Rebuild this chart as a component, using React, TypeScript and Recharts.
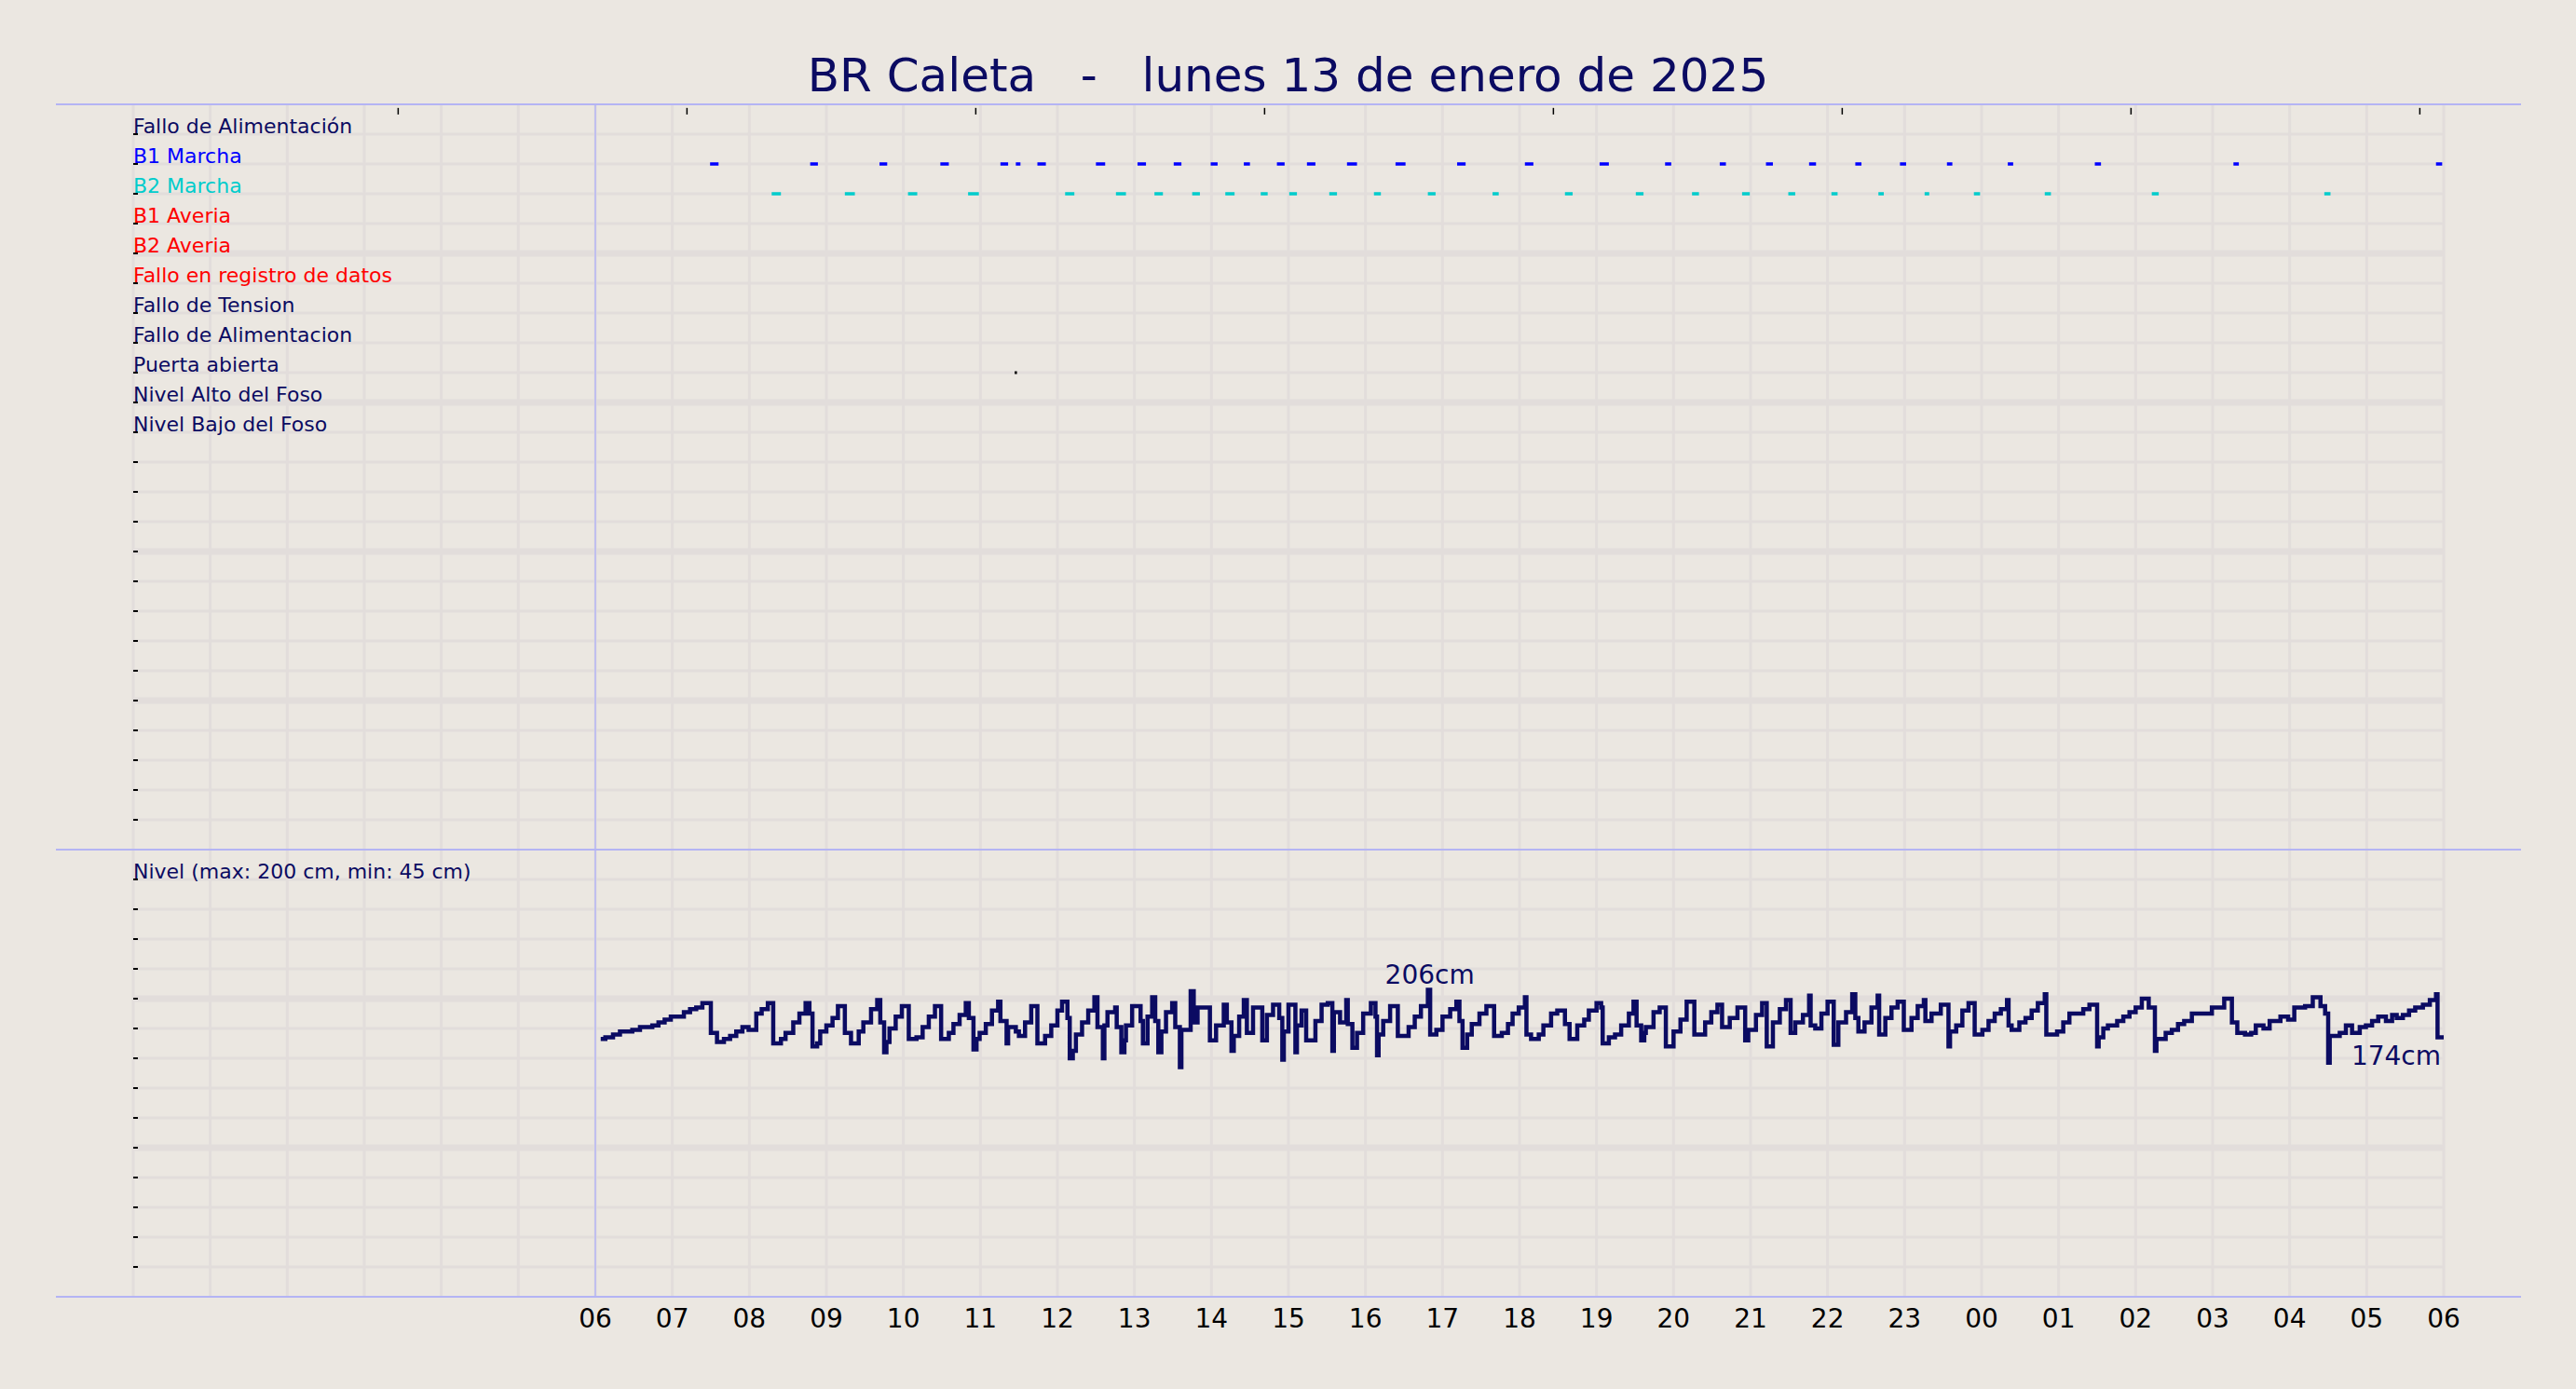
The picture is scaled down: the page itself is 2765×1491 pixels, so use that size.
import { ComposedChart, Line, XAxis, YAxis, CartesianGrid, LabelList, ReferenceLine } from "recharts";

const NAVY = "#0b0b62";
const GRID = "#e2dddb";
const FRAME = "#b4b4f4";
const BG = "#ebe7e1";
const FONT = "'DejaVu Sans', sans-serif";

const WIDTH = 2765;
const PLOT_LEFT = 143;
const PLOT_RIGHT = 2623;

const title = "BR Caleta   -   lunes 13 de enero de 2025";

// x axis: hours from 00 to 06 of next day
const hourTicks = [6, 7, 8, 9, 10, 11, 12, 13, 14, 15, 16, 17, 18, 19, 20, 21, 22, 23, 24, 25, 26, 27, 28, 29, 30];
const gridHours = [0, 1, 2, 3, 4, 5, 6, 7, 8, 9, 10, 11, 12, 13, 14, 15, 16, 17, 18, 19, 20, 21, 22, 23, 24, 25, 26, 27, 28, 29, 30];
const topTicks = [3.44, 7.19, 10.94, 14.69, 18.44, 22.19, 25.94, 29.69];
const topTickSpan = [0.12, 0.34];

// event rows
const rowLabels = [
  "Fallo de Alimentación",
  "B1 Marcha",
  "B2 Marcha",
  "B1 Averia",
  "B2 Averia",
  "Fallo en registro de datos",
  "Fallo de Tension",
  "Fallo de Alimentacion",
  "Puerta abierta",
  "Nivel Alto del Foso",
  "Nivel Bajo del Foso",
];
const rowColors = [NAVY, "#0000ff", "#00cccc", "#ff0000", "#ff0000", "#ff0000", NAVY, NAVY, NAVY, NAVY, NAVY];
const rowTicks = [1, 2, 3, 4, 5, 6, 7, 8, 9, 10, 11, 12, 13, 14, 15, 16, 17, 18, 19, 20, 21, 22, 23, 24];
const majorRows = [5, 10, 15, 20];

const b1Runs = [
  [7.49, 7.6], [8.79, 8.89], [9.69, 9.79], [10.48, 10.59], [11.26, 11.36], [11.46, 11.52],
  [11.74, 11.85], [12.5, 12.62], [13.04, 13.15], [13.51, 13.61], [13.99, 14.08], [14.42, 14.5],
  [14.85, 14.95], [15.24, 15.35], [15.76, 15.89], [16.39, 16.52], [17.19, 17.3], [18.07, 18.18],
  [19.04, 19.16], [19.89, 19.97], [20.6, 20.68], [21.2, 21.29], [21.76, 21.85], [22.36, 22.44],
  [22.94, 23.02], [23.55, 23.62], [24.34, 24.41], [25.47, 25.55], [27.27, 27.34], [29.9, 29.98],
];
const b2Runs = [
  [8.29, 8.41], [9.24, 9.37], [10.06, 10.18], [10.84, 10.98], [12.1, 12.22], [12.76, 12.89],
  [13.26, 13.37], [13.75, 13.85], [14.18, 14.3], [14.64, 14.73], [15.01, 15.11], [15.53, 15.63],
  [16.11, 16.2], [16.81, 16.91], [17.65, 17.73], [18.59, 18.69], [19.51, 19.61], [20.24, 20.33],
  [20.89, 20.99], [21.49, 21.58], [22.05, 22.13], [22.66, 22.73], [23.26, 23.32], [23.9, 23.98],
  [24.82, 24.9], [26.21, 26.3], [28.45, 28.53],
];
const doorRuns = [[11.445, 11.475]];

// level (cm), step samples
const levelHours = [
  6.07, 6.13, 6.23, 6.32, 6.48, 6.58, 6.74, 6.82, 6.9, 6.98, 7.15, 7.23, 7.31, 7.39, 7.5, 7.58, 7.67, 7.75, 7.83, 7.91,
  7.99, 8.09, 8.16, 8.24, 8.31, 8.41, 8.47, 8.57, 8.65, 8.73, 8.78, 8.82, 8.88, 8.92, 9.0, 9.08, 9.15, 9.24, 9.32, 9.42,
  9.48, 9.58, 9.66, 9.7, 9.75, 9.78, 9.82, 9.9, 9.98, 10.07, 10.17, 10.25, 10.33, 10.41, 10.49, 10.59, 10.65, 10.73, 10.81, 10.85,
  10.91, 10.95, 10.99, 11.07, 11.15, 11.23, 11.26, 11.34, 11.36, 11.46, 11.5, 11.58, 11.66, 11.74, 11.84, 11.92, 12.0, 12.06, 12.13, 12.16,
  12.2, 12.24, 12.32, 12.4, 12.48, 12.52, 12.59, 12.61, 12.65, 12.75, 12.77, 12.83, 12.87, 12.89, 12.97, 13.08, 13.11, 13.17, 13.23, 13.27,
  13.31, 13.35, 13.41, 13.49, 13.53, 13.59, 13.61, 13.73, 13.77, 13.82, 13.98, 14.06, 14.16, 14.2, 14.26, 14.29, 14.36, 14.42, 14.46, 14.54,
  14.66, 14.72, 14.8, 14.88, 14.92, 14.94, 15.0, 15.09, 15.11, 15.17, 15.23, 15.35, 15.43, 15.51, 15.57, 15.59, 15.67, 15.75, 15.77, 15.83,
  15.89, 15.97, 16.07, 16.13, 16.15, 16.17, 16.23, 16.32, 16.42, 16.56, 16.64, 16.72, 16.81, 16.84, 16.92, 17.0, 17.1, 17.18, 17.22, 17.26,
  17.32, 17.38, 17.48, 17.57, 17.67, 17.77, 17.85, 17.91, 17.99, 18.07, 18.09, 18.15, 18.25, 18.31, 18.41, 18.49, 18.59, 18.65, 18.75, 18.84,
  18.9, 19.0, 19.06, 19.08, 19.16, 19.24, 19.32, 19.42, 19.48, 19.52, 19.58, 19.62, 19.64, 19.74, 19.82, 19.9, 20.0, 20.09, 20.17, 20.27,
  20.41, 20.49, 20.57, 20.63, 20.73, 20.83, 20.93, 20.97, 21.07, 21.15, 21.21, 21.29, 21.38, 21.46, 21.52, 21.58, 21.68, 21.76, 21.78, 21.84,
  21.92, 22.0, 22.08, 22.14, 22.24, 22.32, 22.36, 22.4, 22.48, 22.57, 22.65, 22.67, 22.75, 22.83, 22.91, 22.99, 23.09, 23.17, 23.25, 23.27,
  23.35, 23.47, 23.57, 23.59, 23.67, 23.75, 23.83, 23.91, 24.01, 24.09, 24.17, 24.25, 24.33, 24.35, 24.39, 24.49, 24.57, 24.65, 24.73, 24.82,
  24.84, 24.98, 25.06, 25.14, 25.32, 25.4, 25.5, 25.52, 25.58, 25.64, 25.76, 25.84, 25.92, 26.0, 26.08, 26.17, 26.25, 26.27, 26.39, 26.47,
  26.55, 26.63, 26.73, 26.83, 26.99, 27.15, 27.25, 27.32, 27.42, 27.5, 27.56, 27.66, 27.74, 27.88, 27.98, 28.06, 28.2, 28.3, 28.4, 28.46,
  28.5, 28.52, 28.65, 28.73, 28.81, 28.91, 28.99, 29.07, 29.15, 29.25, 29.33, 29.39, 29.47, 29.55, 29.63, 29.73, 29.82, 29.9, 29.92, 30.0,
];
const levelCm = [
  173, 174, 176, 178, 179, 181, 182, 184, 186, 188, 191, 193, 194, 197, 177, 171, 173, 175, 178, 181,
  179, 190, 193, 197, 170, 173, 177, 184, 190, 197, 190, 168, 170, 178, 182, 187, 195, 177, 170, 178,
  184, 193, 199, 184, 164, 171, 180, 188, 195, 173, 174, 181, 188, 195, 173, 177, 183, 189, 197, 187,
  166, 173, 177, 183, 192, 198, 185, 170, 181, 178, 175, 184, 195, 170, 175, 182, 192, 198, 187, 160,
  165, 176, 184, 192, 201, 181, 160, 182, 191, 194, 181, 164, 172, 182, 195, 185, 170, 188, 201, 185,
  164, 178, 191, 197, 181, 154, 179, 205, 184, 194, 172, 182, 196, 184, 165, 175, 188, 199, 177, 194,
  172, 189, 196, 187, 159, 178, 196, 164, 182, 192, 172, 185, 196, 197, 165, 191, 184, 199, 183, 167,
  177, 190, 197, 188, 162, 176, 185, 195, 175, 181, 188, 195, 206, 176, 179, 188, 193, 198, 185, 167,
  176, 183, 190, 195, 175, 177, 183, 190, 194, 201, 176, 173, 176, 182, 190, 192, 183, 173, 182, 186,
  192, 197, 194, 170, 174, 176, 182, 190, 198, 182, 172, 177, 181, 191, 194, 168, 178, 186, 198, 176,
  184, 191, 196, 181, 187, 194, 172, 179, 189, 197, 168, 184, 193, 199, 177, 184, 189, 202, 182, 180,
  190, 198, 169, 184, 191, 203, 187, 178, 184, 194, 202, 176, 187, 194, 198, 179, 187, 195, 199, 185,
  190, 196, 168, 178, 182, 192, 197, 176, 179, 185, 190, 193, 199, 182, 179, 184, 187, 192, 197, 203,
  176, 178, 184, 190, 193, 196, 168, 174, 180, 182, 185, 188, 191, 194, 200, 194, 165, 173, 177, 179,
  183, 185, 190, 190, 194, 200, 184, 177, 176, 177, 182, 180, 185, 188, 186, 194, 195, 201, 195, 190,
  157, 175, 177, 182, 177, 181, 182, 185, 188, 185, 189, 187, 189, 192, 194, 196, 199, 203, 174, 174,
];
const levelTicks = [20, 40, 60, 80, 100, 120, 140, 160, 180, 200, 220, 240, 260, 280, 300];
const levelGrid = [20, 40, 60, 80, 100, 120, 140, 160, 180, 200, 220, 240, 260, 280];
const levelMajor = [100, 200];
const levelTitle = "Nivel (max: 200 cm, min: 45 cm)";
const levelTitleTick = 280;

const runsToPoints = (runs: number[][], row: number) =>
  runs.flatMap(([s, e]) => [
    { h: s, v: row },
    { h: e, v: row },
    { h: e, v: null },
  ]);

const levelData = levelHours.map((h, i) => ({ h, v: levelCm[i] }));
const maxIdx = levelCm.indexOf(Math.max(...levelCm));
const lastIdx = levelCm.length - 1;

const fmtHour = (h: number) => String(h % 24).padStart(2, "0");

function RowTick(props: any) {
  const { y, payload } = props;
  const i = payload.value - 1;
  const label = rowLabels[i];
  return (
    <g>
      <line x1={PLOT_LEFT} x2={PLOT_LEFT + 5} y1={y} y2={y} stroke="#000" strokeWidth={2} />
      {label && (
        <text x={PLOT_LEFT} y={y - 1} fill={rowColors[i]} fontSize={22} fontFamily={FONT}>
          {label}
        </text>
      )}
    </g>
  );
}

function LevelTick(props: any) {
  const { y, payload } = props;
  return (
    <g>
      <line x1={PLOT_LEFT} x2={PLOT_LEFT + 5} y1={y} y2={y} stroke="#000" strokeWidth={2} />
      {payload.value === levelTitleTick && (
        <text x={PLOT_LEFT} y={y - 1} fill={NAVY} fontSize={22} fontFamily={FONT}>
          {levelTitle}
        </text>
      )}
    </g>
  );
}

function RightTick(props: any) {
  const { y } = props;
  return <line x1={PLOT_RIGHT - 5} x2={PLOT_RIGHT} y1={y} y2={y} stroke="#000" strokeWidth={2} />;
}

function LevelLabel(props: any) {
  const { x, y, index } = props;
  if (index === maxIdx) {
    return (
      <text x={x + 2} y={y - 6} textAnchor="middle" fill={NAVY} fontSize={28} fontFamily={FONT}>
        {levelCm[maxIdx]}cm
      </text>
    );
  }
  if (index === lastIdx) {
    return (
      <text x={x - 3} y={y + 29} textAnchor="end" fill={NAVY} fontSize={28} fontFamily={FONT}>
        {levelCm[lastIdx]}cm
      </text>
    );
  }
  return null;
}

const frameLine = (top: number) => ({
  position: "absolute" as const,
  left: 60,
  top,
  width: 2646,
  height: 2,
  background: FRAME,
});

export default function App() {
  return (
    <div style={{ position: "relative", width: WIDTH, height: 1491, background: BG, overflow: "hidden" }}>
      <style>{`body{margin:0;background:${BG}}`}</style>
      <div
        style={{
          position: "absolute",
          left: 0,
          top: 56,
          width: WIDTH,
          textAlign: "center",
          fontFamily: FONT,
          fontSize: 50,
          lineHeight: "50px",
          whiteSpace: "pre",
          color: NAVY,
        }}
      >
        {title}
      </div>

      <div style={{ position: "absolute", left: 0, top: 112 }}>
        <ComposedChart width={WIDTH} height={800} margin={{ top: 0, right: 0, bottom: 0, left: 0 }}>
          <CartesianGrid stroke={GRID} strokeWidth={3} horizontalValues={rowTicks} verticalValues={gridHours} />
          <CartesianGrid stroke={GRID} strokeWidth={7} vertical={false} horizontalValues={majorRows} />
          <CartesianGrid stroke={FRAME} strokeWidth={1.5} horizontal={false} verticalValues={[6]} />
          <XAxis type="number" dataKey="h" domain={[0, 30]} hide allowDataOverflow />
          <YAxis
            type="number"
            domain={[0, 25]}
            reversed
            ticks={rowTicks}
            interval={0}
            width={PLOT_LEFT}
            axisLine={false}
            tickLine={false}
            tick={RowTick}
          />
          <YAxis
            yAxisId="right"
            orientation="right"
            type="number"
            domain={[0, 25]}
            reversed
            ticks={rowTicks}
            interval={0}
            width={WIDTH - PLOT_RIGHT}
            axisLine={false}
            tickLine={false}
            tick={RightTick}
          />
          {topTicks.map((t) => (
            <ReferenceLine
              key={t}
              segment={[
                { x: t, y: topTickSpan[0] },
                { x: t, y: topTickSpan[1] },
              ]}
              stroke="#000"
              strokeWidth={1.5}
            />
          ))}
          <Line data={runsToPoints(b1Runs, 2)} dataKey="v" stroke={rowColors[1]} strokeWidth={3.5} dot={false} isAnimationActive={false} />
          <Line data={runsToPoints(b2Runs, 3)} dataKey="v" stroke={rowColors[2]} strokeWidth={3.5} dot={false} isAnimationActive={false} />
          <Line data={runsToPoints(doorRuns, 9)} dataKey="v" stroke="#000" strokeWidth={3} dot={false} isAnimationActive={false} />
        </ComposedChart>
      </div>

      <div style={{ position: "absolute", left: 0, top: 912 }}>
        <ComposedChart width={WIDTH} height={540} margin={{ top: 0, right: 0, bottom: 0, left: 0 }}>
          <CartesianGrid stroke={GRID} strokeWidth={3} horizontalValues={levelGrid} verticalValues={gridHours} />
          <CartesianGrid stroke={GRID} strokeWidth={7} vertical={false} horizontalValues={levelMajor} />
          <CartesianGrid stroke={FRAME} strokeWidth={1.5} horizontal={false} verticalValues={[6]} />
          <XAxis
            type="number"
            dataKey="h"
            domain={[0, 30]}
            ticks={hourTicks}
            interval={0}
            tickFormatter={fmtHour}
            height={60}
            axisLine={false}
            tickLine={false}
            tickSize={6}
            tickMargin={7}
            tick={{ fontSize: 28, fill: "#000", fontFamily: FONT }}
          />
          <YAxis
            type="number"
            domain={[0, 300]}
            ticks={levelTicks}
            interval={0}
            width={PLOT_LEFT}
            axisLine={false}
            tickLine={false}
            tick={LevelTick}
          />
          <YAxis
            yAxisId="right"
            orientation="right"
            type="number"
            domain={[0, 300]}
            ticks={levelTicks}
            interval={0}
            width={WIDTH - PLOT_RIGHT}
            axisLine={false}
            tickLine={false}
            tick={RightTick}
          />
          <Line
            data={levelData}
            dataKey="v"
            type="stepAfter"
            stroke={NAVY}
            strokeWidth={4.5}
            dot={false}
            isAnimationActive={false}
          >
            <LabelList dataKey="v" content={LevelLabel} />
          </Line>
        </ComposedChart>
      </div>

      <div style={frameLine(111)} />
      <div style={frameLine(911)} />
      <div style={frameLine(1391)} />
    </div>
  );
}
